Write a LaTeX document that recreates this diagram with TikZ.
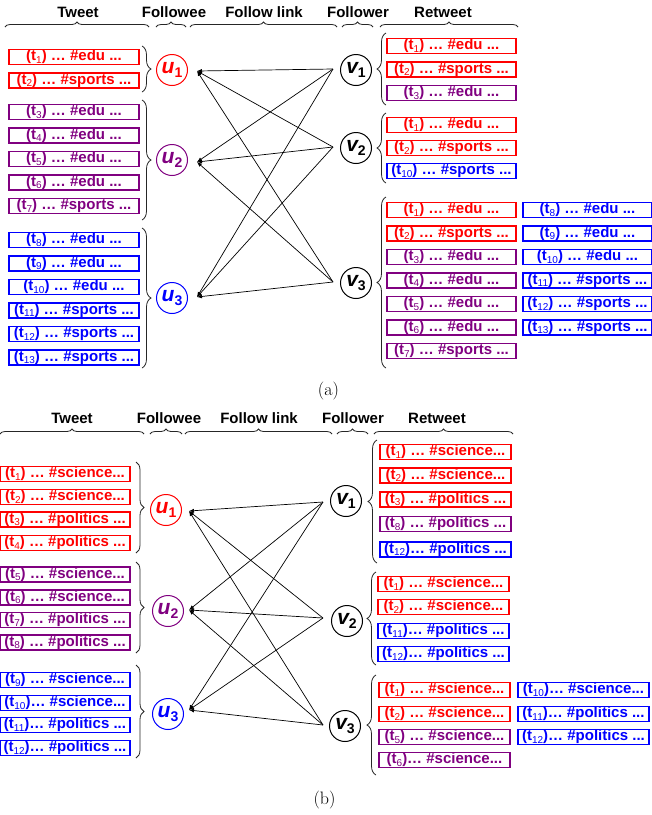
\documentclass[tikz,border=0pt]{standalone}
\usepackage{fontspec}
\newfontfamily\arial{Liberation Sans}
\usetikzlibrary{decorations.pathreplacing,arrows.meta}
\definecolor{cred}{RGB}{255,0,0}
\definecolor{cpur}{RGB}{128,0,128}
\definecolor{cblu}{RGB}{0,0,255}
\newcommand\sbs[1]{\raisebox{-0.3ex}{\fontsize{10}{10}\selectfont\mdseries #1}}
\newcommand\tk[1]{(t\sbs{#1})}
\newcommand\csub[1]{\raisebox{-0.3ex}{\fontsize{14}{14}\selectfont\upshape #1}}
\newcommand\bx[6]{\node[tbox=#2, minimum width=#5pt] (#1) at (#3,#4) {#6};}
\begin{document}
\begin{tikzpicture}[x=1pt,y=-1pt,
  tbox/.style={draw=#1, text=#1, line width=1.1pt, minimum height=15pt, inner sep=0pt,
    font={\arial\bfseries\fontsize{15}{15}\selectfont}},
  usr/.style={circle, draw=#1, text=#1, line width=1pt, minimum size=31pt, inner sep=0pt,
    font={\arial\bfseries\itshape\fontsize{21}{21}\selectfont}},
  hdr/.style={font={\arial\bfseries\fontsize{15}{15}\selectfont}, inner sep=0pt},
  brc/.style={decorate, decoration={brace, amplitude=#1}, line width=0.8pt, draw=black!85},
  brc/.default=5pt,
  link/.style={line width=0.7pt, -{Latex[length=5pt,width=4pt]}},
  caplbl/.style={font={\fontsize{18}{18}\selectfont}, inner sep=0pt}
]
\useasboundingbox (0,0) rectangle (652,815);

%% ================= (a) =================
\node[hdr] (aH1) at (78,12) {Tweet};
\node[hdr] (aH2) at (174,12) {Followee};
\node[hdr] (aH3) at (264,12) {Follow link};
\node[hdr] (aH4) at (358,12) {Follower};
\node[hdr] (aH5) at (443,12) {Retweet};
\draw[brc] (5,27) -- (149,27);
\draw[brc] (156,27) -- (186,27);
\draw[brc] (190,27) -- (337,27);
\draw[brc] (342,27) -- (373,27);
\draw[brc] (380,27) -- (518,27);

\bx{aL1}{cred}{74}{57}{130}{\tk{1} … \#edu ...}
\bx{aL2}{cred}{74}{80.5}{130}{\tk{2} … \#sports ...}
\bx{aL3}{cpur}{74}{112}{130}{\tk{3} … \#edu ...}
\bx{aL4}{cpur}{74}{135.5}{130}{\tk{4} … \#edu ...}
\bx{aL5}{cpur}{74}{159}{130}{\tk{5} … \#edu ...}
\bx{aL6}{cpur}{74}{182.5}{130}{\tk{6} … \#edu ...}
\bx{aL7}{cpur}{74}{206}{130}{\tk{7} … \#sports ...}
\bx{aL8}{cblu}{74}{240}{130}{\tk{8} … \#edu ...}
\bx{aL9}{cblu}{74}{263.5}{130}{\tk{9} … \#edu ...}
\bx{aL10}{cblu}{74}{287}{130}{\tk{10} … \#edu ...}
\bx{aL11}{cblu}{74}{310.5}{130}{\tk{11} … \#sports ...}
\bx{aL12}{cblu}{74}{334}{130}{\tk{12} … \#sports ...}
\bx{aL13}{cblu}{74}{357.5}{130}{\tk{13} … \#sports ...}

\draw[brc=9pt] (142,46) -- (142,92);
\draw[brc=9pt] (142,100) -- (142,220);
\draw[brc=9pt] (142,228) -- (142,368);

\node[usr=cred] (au1) at (172,70) {u\csub{1}};
\node[usr=cpur] (au2) at (172,160) {u\csub{2}};
\node[usr=cblu] (au3) at (172,298) {u\csub{3}};
\node[usr=black] (av1) at (356,70) {v\csub{1}};
\node[usr=black] (av2) at (356,148) {v\csub{2}};
\node[usr=black] (av3) at (356,283) {v\csub{3}};

\coordinate (apu1) at (197,71);
\coordinate (apu2) at (197,162);
\coordinate (apu3) at (197,297);
\coordinate (apv1) at (333,69);
\coordinate (apv2) at (333,147);
\coordinate (apv3) at (333,282);
\foreach \v in {1,2,3}{\foreach \u in {1,2,3}{\draw[link] (apv\v) -- (apu\u);}}

\draw[brc=9pt] (386,105) -- (386,33);
\draw[brc=9pt] (386,183) -- (386,113);
\draw[brc=9pt] (386,368) -- (386,197);

\bx{aA1}{cred}{451.5}{46}{129}{\tk{1} … \#edu ...}
\bx{aA2}{cred}{451.5}{69.5}{129}{\tk{2} … \#sports ...}
\bx{aA3}{cpur}{451.5}{93}{129}{\tk{3} … \#edu ...}
\bx{aB1}{cred}{451.5}{125}{129}{\tk{1} … \#edu ...}
\bx{aB2}{cred}{451.5}{148}{129}{\tk{2} … \#sports ...}
\bx{aB3}{cblu}{451.5}{171}{129}{\tk{10} … \#sports ...}
\bx{aC1}{cred}{451.5}{210}{129}{\tk{1} … \#edu ...}
\bx{aC2}{cred}{451.5}{233.5}{129}{\tk{2} … \#sports ...}
\bx{aC3}{cpur}{451.5}{257}{129}{\tk{3} … \#edu ...}
\bx{aC4}{cpur}{451.5}{280.5}{129}{\tk{4} … \#edu ...}
\bx{aC5}{cpur}{451.5}{304}{129}{\tk{5} … \#edu ...}
\bx{aC6}{cpur}{451.5}{327.5}{129}{\tk{6} … \#edu ...}
\bx{aC7}{cpur}{451.5}{351}{129}{\tk{7} … \#sports ...}
\bx{aD1}{cblu}{587.5}{210}{129}{\tk{8} … \#edu ...}
\bx{aD2}{cblu}{587.5}{233.5}{129}{\tk{9} … \#edu ...}
\bx{aD3}{cblu}{587.5}{257}{129}{\tk{10} … \#edu ...}
\bx{aD4}{cblu}{587.5}{280.5}{129}{\tk{11} … \#sports ...}
\bx{aD5}{cblu}{587.5}{304}{129}{\tk{12} … \#sports ...}
\bx{aD6}{cblu}{587.5}{327.5}{129}{\tk{13} … \#sports ...}

\node[caplbl] (capA) at (328.5,391) {(a)};

%% ================= (b) =================
\node[hdr] (bH1) at (72,418) {Tweet};
\node[hdr] (bH2) at (169,418) {Followee};
\node[hdr] (bH3) at (259,418) {Follow link};
\node[hdr] (bH4) at (353,418) {Follower};
\node[hdr] (bH5) at (437,418) {Retweet};
\draw[brc] (0,434) -- (144,434);
\draw[brc] (150,434) -- (182,434);
\draw[brc] (185,434) -- (332,434);
\draw[brc] (337,434) -- (368,434);
\draw[brc] (374,434) -- (513,434);

\bx{bL1}{cred}{65}{474}{130}{\tk{1} … \#science...}
\bx{bL2}{cred}{65}{497}{130}{\tk{2} … \#science...}
\bx{bL3}{cred}{65}{519.5}{130}{\tk{3} … \#politics ...}
\bx{bL4}{cred}{65}{543}{130}{\tk{4} … \#politics ...}
\bx{bL5}{cpur}{65}{574.5}{130}{\tk{5} … \#science...}
\bx{bL6}{cpur}{65}{597.5}{130}{\tk{6} … \#science...}
\bx{bL7}{cpur}{65}{620}{130}{\tk{7} … \#politics ...}
\bx{bL8}{cpur}{65}{642.5}{130}{\tk{8} … \#politics ...}
\bx{bL9}{cblu}{65}{680}{130}{\tk{9} … \#science...}
\bx{bL10}{cblu}{65}{703}{130}{\tk{10}… \#science...}
\bx{bL11}{cblu}{65}{725}{130}{\tk{11}… \#politics ...}
\bx{bL12}{cblu}{65}{748}{130}{\tk{12}… \#politics ...}

\draw[brc=8pt] (136,462) -- (136,553);
\draw[brc=8pt] (136,562) -- (136,653);
\draw[brc=8pt] (136,665) -- (136,758);

\node[usr=cred] (bu1) at (166,510) {u\csub{1}};
\node[usr=cpur] (bu2) at (168,611) {u\csub{2}};
\node[usr=cblu] (bu3) at (168,714) {u\csub{3}};
\node[usr=black] (bv1) at (346,501) {v\csub{1}};
\node[usr=black] (bv2) at (347,621) {v\csub{2}};
\node[usr=black] (bv3) at (345,726) {v\csub{3}};

\coordinate (bpu1) at (189,511);
\coordinate (bpu2) at (189,610);
\coordinate (bpu3) at (189,710);
\coordinate (bpv1) at (323,502);
\coordinate (bpv2) at (323,618);
\coordinate (bpv3) at (323,725);
\foreach \v in {1,2,3}{\foreach \u in {1,2,3}{\draw[link] (bpv\v) -- (bpu\u);}}

\draw[brc=9pt] (377,563) -- (377,440);
\draw[brc=9pt] (376,665) -- (376,572);
\draw[brc=9pt] (376,775) -- (376,675);

\bx{bA1}{cred}{445.5}{452}{131}{\tk{1} … \#science...}
\bx{bA2}{cred}{445.5}{475.5}{131}{\tk{2} … \#science...}
\bx{bA3}{cred}{445.5}{499.5}{131}{\tk{3} … \#politics ...}
\bx{bA4}{cpur}{445.5}{524}{131}{\tk{8} … \#politics ...}
\bx{bA5}{cblu}{445.5}{549.5}{131}{\tk{12}… \#politics ...}
\bx{bB1}{cred}{443.5}{584}{131}{\tk{1} … \#science...}
\bx{bB2}{cred}{443.5}{607}{131}{\tk{2} … \#science...}
\bx{bB3}{cblu}{443.5}{631}{131}{\tk{11}… \#politics ...}
\bx{bB4}{cblu}{443.5}{654}{131}{\tk{12}… \#politics ...}
\bx{bC1}{cred}{444.5}{690}{131}{\tk{1} … \#science...}
\bx{bC2}{cred}{444.5}{714}{131}{\tk{2} … \#science...}
\bx{bC3}{cpur}{444.5}{737}{131}{\tk{5} … \#science...}
\bx{bC4}{cpur}{444.5}{760}{131}{\tk{6}… \#science...}
\bx{bD1}{cblu}{583.5}{690}{131}{\tk{10}… \#science...}
\bx{bD2}{cblu}{583.5}{714}{131}{\tk{11}… \#politics ...}
\bx{bD3}{cblu}{583.5}{737}{131}{\tk{12}… \#politics ...}

\node[caplbl] (capB) at (324.5,800) {(b)};
\end{tikzpicture}
\end{document}
